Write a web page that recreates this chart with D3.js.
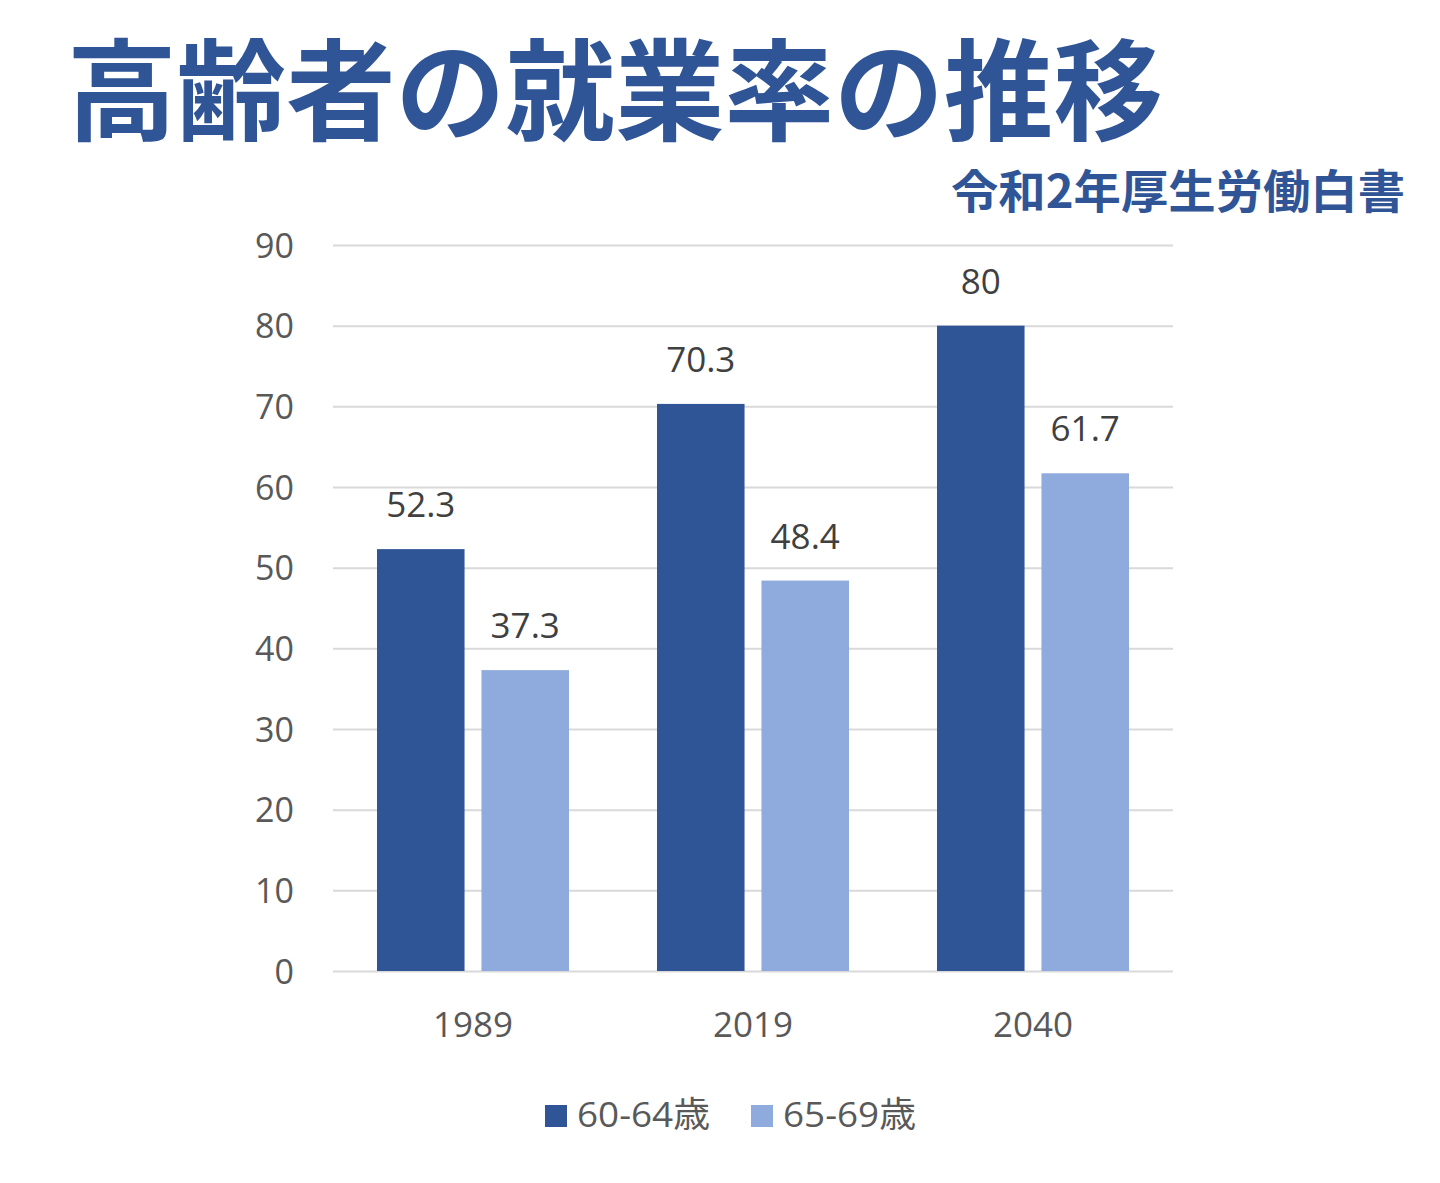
<!DOCTYPE html>
<html>
<head>
<meta charset="utf-8">
<script src="https://cdn.jsdelivr.net/npm/d3@7"></script>
<style>
  body { margin: 0; background: #fff; }
  svg text { font-family: "Open Sans", "Noto Sans CJK JP", sans-serif; }
</style>
</head>
<body>
<div id="chart"></div>
<script>
// data
var years = ["1989", "2019", "2040"];
var seriesNames = ["60-64歳", "65-69歳"];
var age6064 = [52.3, 70.3, 80];
var age6569 = [37.3, 48.4, 61.7];
var yTicks = [0, 10, 20, 30, 40, 50, 60, 70, 80, 90];

var colors = ["#2F5597", "#8FAADC"];

var width = 1440,
    height = 1183;

var svg = d3.select("#chart").append("svg")
  .attr("width", width)
  .attr("height", height);

// title
svg.append("text")
  .attr("x", 67).attr("y", 132)
  .attr("textLength", 1096)
  .attr("lengthAdjust", "spacingAndGlyphs")
  .style("font-family", "'Noto Sans CJK JP', sans-serif")
  .style("font-weight", "bold")
  .style("font-size", "110px")
  .style("fill", "#2F5597")
  .text("高齢者の就業率の推移");

svg.append("text")
  .attr("x", 951).attr("y", 208)
  .attr("textLength", 454)
  .attr("lengthAdjust", "spacingAndGlyphs")
  .style("font-family", "'Noto Sans CJK JP', sans-serif")
  .style("font-weight", "bold")
  .style("font-size", "46px")
  .style("fill", "#2F5597")
  .text("令和2年厚生労働白書");

// scales
var x0 = d3.scaleBand().domain(years).range([333, 1173]).padding(0);
var x1 = d3.scaleBand().domain(seriesNames).range([44, 236]).paddingInner(0.162);
var y = d3.scaleLinear().domain([0, 90]).range([971, 245]);

// y axis + gridlines
var yAxis = svg.append("g")
  .attr("transform", "translate(333,0)")
  .call(d3.axisLeft(y).tickValues(yTicks).tickSize(-840).tickPadding(39));
yAxis.select(".domain").remove();
yAxis.selectAll(".tick line").attr("stroke", "#d9d9d9").attr("stroke-width", 2);
yAxis.selectAll(".tick text")
  .style("font-size", "34px")
  .style("fill", "#595959")
  .attr("dy", "0.36em");

// x axis
var xAxis = svg.append("g")
  .attr("transform", "translate(0,971)")
  .call(d3.axisBottom(x0).tickSize(0).tickPadding(41));
xAxis.select(".domain").remove();
xAxis.selectAll(".tick text")
  .style("font-size", "35px")
  .style("fill", "#595959");

// bars
var rows = years.map(function(yr, i) {
  return { year: yr, values: [age6064[i], age6569[i]] };
});

var groups = svg.selectAll(".grp")
  .data(rows).enter()
  .append("g")
  .attr("class", "grp")
  .attr("transform", function(d) { return "translate(" + x0(d.year) + ",0)"; });

groups.selectAll("rect")
  .data(function(d) { return d.values.map(function(v, j) { return { name: seriesNames[j], value: v, j: j }; }); })
  .enter().append("rect")
  .attr("x", function(d) { return x1(d.name); })
  .attr("width", x1.bandwidth())
  .attr("y", function(d) { return y(d.value); })
  .attr("height", function(d) { return y(0) - y(d.value); })
  .attr("fill", function(d) { return colors[d.j]; });

groups.selectAll(".lbl")
  .data(function(d) { return d.values.map(function(v, j) { return { name: seriesNames[j], value: v }; }); })
  .enter().append("text")
  .attr("class", "lbl")
  .attr("x", function(d) { return x1(d.name) + x1.bandwidth() / 2; })
  .attr("y", function(d) { return y(d.value) - 32; })
  .attr("text-anchor", "middle")
  .style("font-size", "35px")
  .style("fill", "#404040")
  .text(function(d) { return d.value; });

// legend
var legendX = [545, 751];
var legend = svg.selectAll(".legend")
  .data(seriesNames).enter()
  .append("g")
  .attr("class", "legend")
  .attr("transform", function(d, i) { return "translate(" + legendX[i] + ",1105)"; });
legend.append("rect")
  .attr("width", 22).attr("height", 22)
  .attr("fill", function(d, i) { return colors[i]; });
legend.append("text")
  .attr("x", 32).attr("y", 22)
  .attr("textLength", 133)
  .attr("lengthAdjust", "spacingAndGlyphs")
  .style("font-size", "35px")
  .style("fill", "#595959")
  .text(function(d) { return d; });
</script>
</body>
</html>
